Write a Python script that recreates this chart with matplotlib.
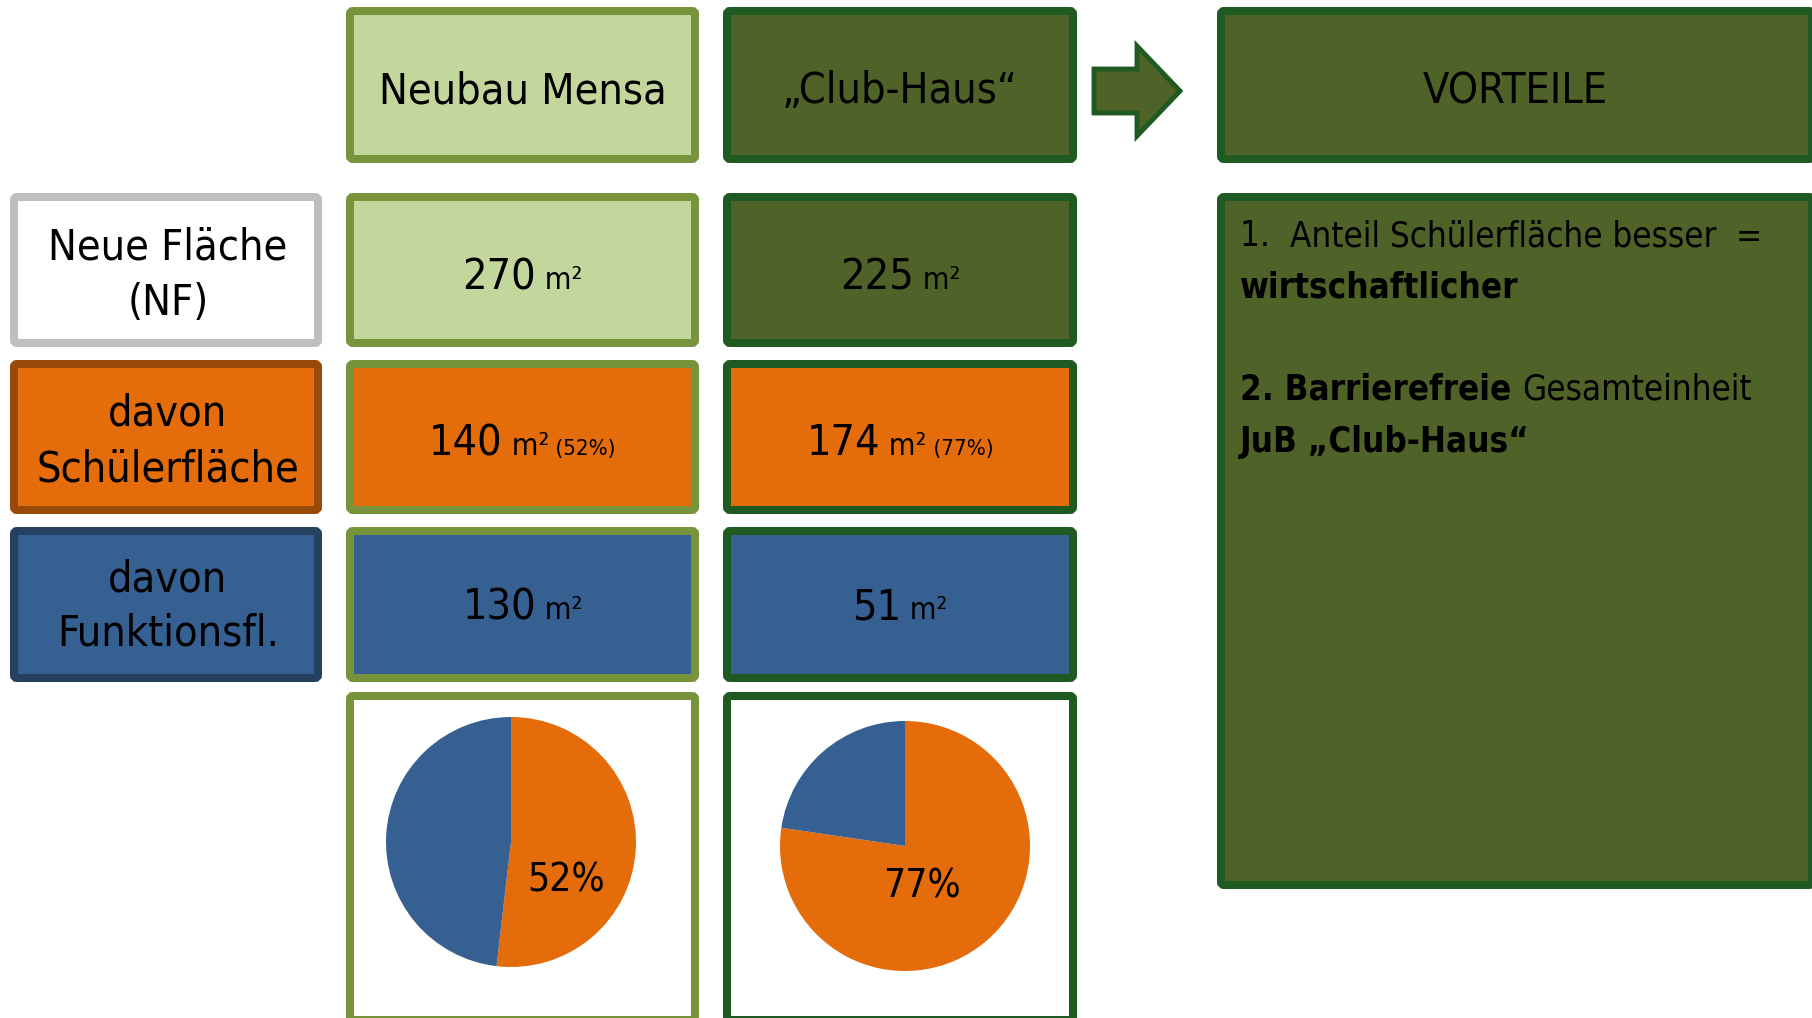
import matplotlib
matplotlib.use("Agg")
import matplotlib.pyplot as plt
from matplotlib.patches import FancyBboxPatch, Polygon

FONT = ['Liberation Sans Narrow', 'DejaVu Sans', 'Noto Sans']
plt.rcParams['font.family'] = FONT
plt.rcParams['font.stretch'] = 'condensed'

# data
columns = ["Neubau Mensa", "\u201eClub-Haus\u201c"]
row_labels = [["Neue Fl\u00e4che", "(NF)"], ["davon", "Sch\u00fclerfl\u00e4che"], ["davon", "Funktionsfl."]]
gesamt = [270, 225]
schueler = [140, 174]
funktion = [130, 51]
anteil = [52, 77]
vorteile_title = "VORTEILE"

# colours
LG_FILL, LG_EDGE = '#C3D69B', '#77933C'
DG_FILL, DG_EDGE = '#4F6228', '#1E5A22'
OR_FILL, OR_EDGE = '#E46C0A', '#9A4A08'
BL_FILL, BL_EDGE = '#376092', '#26405F'
GR_EDGE = '#BFBFBF'

W, H = 1812, 1018
fig = plt.figure(figsize=(W / 100, H / 100), dpi=100)
ax = fig.add_axes([0, 0, 1, 1])
ax.set_xlim(0, W)
ax.set_ylim(H, 0)
ax.axis('off')
renderer = fig.canvas.get_renderer()

BW = 8  # border width in px
BIG = 31
MID = 22
SMALL = 16


def box(x0, y0, x1, y1, fill, edge):
    # outer edges given, stroke is centred so pull in by half the border
    h = BW / 2
    p = FancyBboxPatch((x0 + h, y0 + h), x1 - x0 - BW, y1 - y0 - BW,
                       boxstyle="round,pad=0,rounding_size=3",
                       fc=fill, ec=edge, lw=BW * 0.72, clip_on=True)
    ax.add_patch(p)


def rich(x, y, parts, ha='center'):
    # parts: (text, size, weight), all on one baseline
    placed = []
    off = 0
    for s, size, weight in parts:
        t = ax.text(0, y, s, fontsize=size, fontweight=weight, va='baseline', ha='left')
        placed.append((t, off))
        off += t.get_window_extent(renderer).width
    start = x - off / 2 if ha == 'center' else x
    for t, o in placed:
        t.set_x(start + o)


col_x = [(346, 699), (723, 1077)]
col_style = [(LG_FILL, LG_EDGE), (DG_FILL, DG_EDGE)]
rows_y = [(193, 347), (360, 514), (527, 682)]
row_style = [('white', GR_EDGE), (OR_FILL, OR_EDGE), (BL_FILL, BL_EDGE)]

# header row
for (x0, x1), (f, e), name in zip(col_x, col_style, columns):
    box(x0, 7, x1, 163, f, e)
    rich((x0 + x1) / 2, 103, [(name, BIG, 'normal')])

# arrow
arrow = Polygon([(1094, 69), (1137, 69), (1137, 46), (1180, 91), (1137, 136), (1137, 113), (1094, 113)],
                closed=True, fc=DG_FILL, ec=DG_EDGE, lw=3.5, joinstyle='miter')
ax.add_patch(arrow)

# VORTEILE box
box(1217, 7, 1816, 163, DG_FILL, DG_EDGE)
rich(1515, 103, [(vorteile_title, BIG, 'normal')])

# left labels
lab_y = [(260, 315), (426, 481), (591, 646)]
for (y0, y1), (f, e), lines, (b1, b2) in zip(rows_y, row_style, row_labels, lab_y):
    box(10, y0, 322, y1, f, e)
    rich(168, b1, [(lines[0], BIG, 'normal')])
    rich(168, b2, [(lines[1], BIG, 'normal')])

# value cells
for i, ((x0, x1), (f, e)) in enumerate(zip(col_x, col_style)):
    cx = (x0 + x1) / 2
    box(x0, rows_y[0][0], x1, rows_y[0][1], f, e)
    rich(cx, 289, [(str(gesamt[i]), BIG, 'normal'), (" m\u00b2", MID, 'normal')])
    box(x0, rows_y[1][0], x1, rows_y[1][1], OR_FILL, e)
    rich(cx, 455, [(str(schueler[i]), BIG, 'normal'), (" m\u00b2", MID, 'normal'),
                   (" (%d%%)" % anteil[i], SMALL, 'normal')])
    box(x0, rows_y[2][0], x1, rows_y[2][1], BL_FILL, e)
    rich(cx, 619, [(str(funktion[i]), BIG, 'normal'), (" m\u00b2", MID, 'normal')])
    # pie frame
    box(x0, 692, x1, 1024, 'white', e)

# pies
pie_centres = [(511, 842), (905, 846)]
label_pos = [(566, 880), (922, 887)]
R = 125
for i, (cx, cy) in enumerate(pie_centres):
    pax = fig.add_axes([(cx - R) / W, (H - cy - R) / H, 2 * R / W, 2 * R / H])
    pax.pie([schueler[i], funktion[i]], colors=[OR_FILL, BL_FILL], startangle=90,
            counterclock=False, wedgeprops=dict(linewidth=0))
    pax.set_xlim(-1, 1)
    pax.set_ylim(-1, 1)
    pax.set_aspect('equal')
    lx, ly = label_pos[i]
    fig.text(lx / W, 1 - ly / H, "%d%%" % anteil[i], fontsize=28, ha='center', va='center')

# Vorteile text
box(1217, 193, 1816, 889, DG_FILL, DG_EDGE)
TX = 25
rich(1240, 246, [("1.  ", TX, 'normal'), ("Anteil Sch\u00fclerfl\u00e4che besser  =", TX, 'normal')], ha='left')
rich(1240, 298, [("wirtschaftlicher", TX, 'bold')], ha='left')
rich(1240, 400, [("2. Barrierefreie ", TX, 'bold'), ("Gesamteinheit", TX, 'normal')], ha='left')
rich(1240, 452, [("JuB \u201eClub-Haus\u201c", TX, 'bold')], ha='left')

fig.savefig("out.png", dpi=100)
